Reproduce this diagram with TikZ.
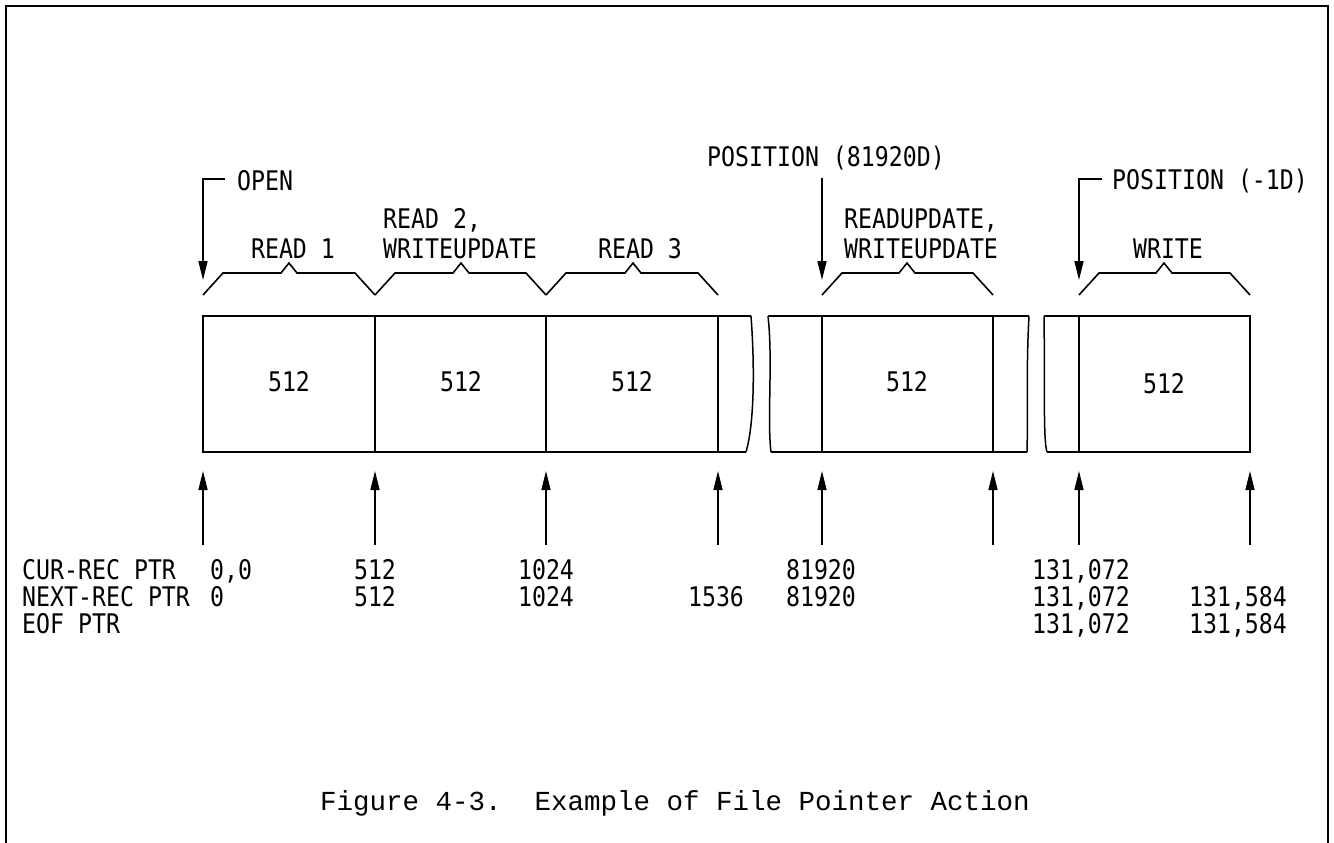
\documentclass[tikz,border=0pt]{standalone}
\usepackage{fontspec}
\usetikzlibrary{arrows.meta}
\newfontfamily\condf[FakeStretch=0.86]{DejaVu Sans Mono}
\newfontfamily\monof{Liberation Mono}
\newcommand\bracepath[3]{%
  (#1,295) -- ({#1+20},273) -- ({#3-8},273) -- (#3,263) -- ({#3+8},273) -- ({#2-20},273) -- (#2,295)}
\begin{document}
\begin{tikzpicture}[x=1pt,y=-1pt,
  lbl/.style={font=\condf\fontsize{27}{27}\selectfont, inner sep=0pt, text height=19.7pt, text depth=0pt},
  captxt/.style={font=\monof\fontsize{27.5}{28}\selectfont, inner sep=0pt},
  outerframe/.style={line width=2pt},
  boxline/.style={line width=2.8pt, line join=miter},
  divline/.style={line width=1.5pt},
  bracel/.style={line width=1.6pt, line join=miter},
  ptr/.style={line width=1.6pt, -{Triangle[length=19pt,width=9pt]}},
]
\useasboundingbox (0,0) rectangle (1334,843);
% outer frame
\draw[outerframe] (6,843) -- (6,6) -- (1328,6) -- (1328,843);

% ---- record boxes
\draw[boxline] (751,316) -- (203,316) -- (203,452) -- (746,452);
\draw[divline] (751,316) .. controls (755,370) and (754,425) .. (746,452);
\draw[boxline] (768,316) -- (1029,316);
\draw[boxline] (771,452) -- (1027,452);
\draw[divline] (768,316) .. controls (773,360) and (767,420) .. (771,452);
\draw[divline] (1029,316) .. controls (1026,370) and (1028,420) .. (1027,452);
\draw[boxline] (1044,316) -- (1250,316) -- (1250,452) -- (1047,452);
\draw[divline] (1044,316) .. controls (1045,380) and (1043,440) .. (1047,452);
% dividers
\foreach \xx in {375,546,718,822,993,1079}
  \draw[divline] (\xx,316) -- (\xx,452);

% cell sizes
\node[lbl] (c1) at (289,382) {512};
\node[lbl] (c2) at (461,382) {512};
\node[lbl] (c3) at (632,382) {512};
\node[lbl] (c4) at (907,382) {512};
\node[lbl] (c5) at (1164,384) {512};

% ---- braces
\draw[bracel] \bracepath{203}{375}{289};
\draw[bracel] \bracepath{375}{546}{461};
\draw[bracel] \bracepath{546}{718}{633};
\draw[bracel] \bracepath{822}{993}{907};
\draw[bracel] \bracepath{1079}{1250}{1164};

% ---- operation labels
\node[lbl, anchor=west] (open) at (237,181) {OPEN};
\node[lbl] (read1) at (293,249) {READ 1};
\node[lbl, anchor=west] (read2) at (383,219) {READ 2,};
\node[lbl, anchor=west] (wu1) at (383,249) {WRITEUPDATE};
\node[lbl] (read3) at (640,249) {READ 3};
\node[lbl] (pos1) at (826,157) {POSITION (81920D)};
\node[lbl, anchor=west] (ru) at (844,219) {READUPDATE,};
\node[lbl, anchor=west] (wu2) at (844,249) {WRITEUPDATE};
\node[lbl, anchor=west] (pos2) at (1112,180) {POSITION (-1D)};
\node[lbl] (write) at (1168,249) {WRITE};

% ---- downward operation arrows
\coordinate (oa) at (225,179);
\coordinate (ob) at (203,179);
\coordinate (oc) at (203,280);
\draw[ptr] (oa) -- (ob) -- (oc);
\coordinate (pa) at (822,178);
\coordinate (pb) at (822,280);
\draw[ptr] (pa) -- (pb);
\coordinate (qa) at (1102,179);
\coordinate (qb) at (1079,179);
\coordinate (qc) at (1079,280);
\draw[ptr] (qa) -- (qb) -- (qc);

% ---- upward pointer arrows
\foreach \xx [count=\i] in {203,375,546,718,822,993,1079,1250} {
  \coordinate (ta\i) at (\xx,545);
  \coordinate (tb\i) at (\xx,471);
  \draw[ptr] (ta\i) -- (tb\i);
}

% ---- pointer table
\node[lbl, anchor=west] (cur) at (22,570) {CUR-REC PTR};
\node[lbl, anchor=west] (nxt) at (22,597) {NEXT-REC PTR};
\node[lbl, anchor=west] (eof) at (22,624) {EOF PTR};

\node[lbl, anchor=west] (a1) at (210,570) {0,0};
\node[lbl] (a2) at (375,570) {512};
\node[lbl] (a3) at (546,570) {1024};
\node[lbl] (a4) at (821,570) {81920};
\node[lbl] (a5) at (1081,570) {131,072};

\node[lbl, anchor=west] (b1) at (210,597) {0};
\node[lbl] (b2) at (375,597) {512};
\node[lbl] (b3) at (546,597) {1024};
\node[lbl] (b4) at (716,597) {1536};
\node[lbl] (b5) at (821,597) {81920};
\node[lbl] (b6) at (1081,597) {131,072};
\node[lbl] (b7) at (1238,597) {131,584};

\node[lbl] (e1) at (1081,624) {131,072};
\node[lbl] (e2) at (1238,624) {131,584};

% ---- caption
\node[captxt, anchor=base] (caption) at (675,810) {Figure 4-3.~~Example of File Pointer Action};
\end{tikzpicture}
\end{document}
